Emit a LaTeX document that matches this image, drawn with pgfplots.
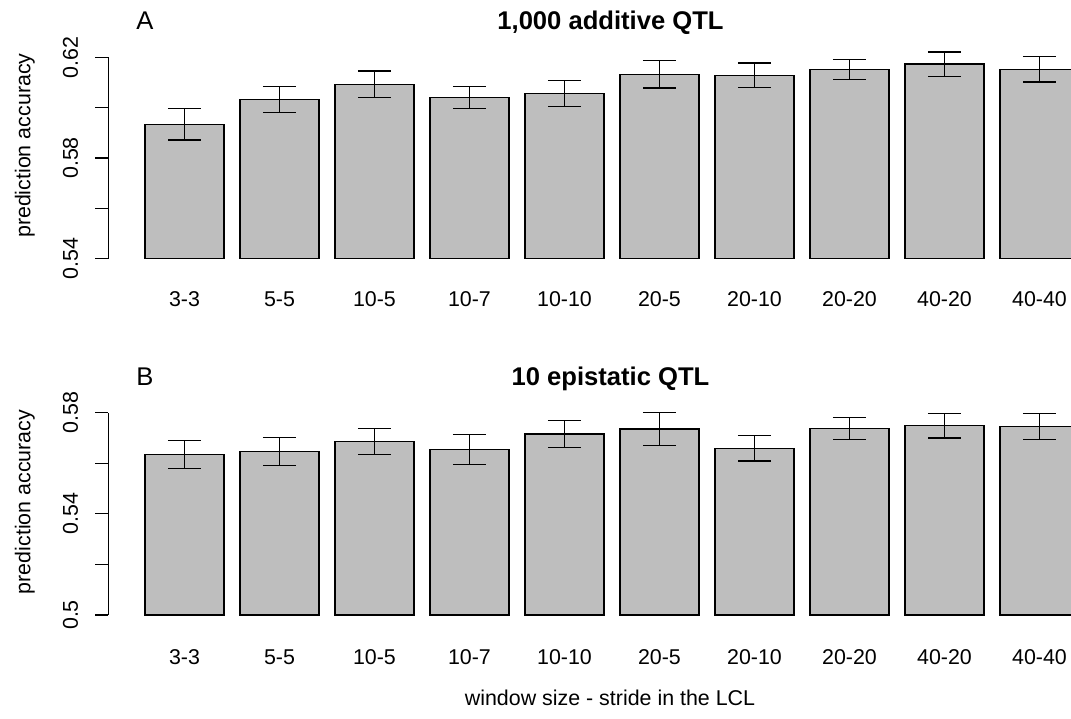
\documentclass[border=0pt]{standalone}
\usepackage{fontspec}
\setmainfont{Liberation Sans}
\usepackage{pgfplots}
\pgfplotsset{compat=1.18}
\usepackage{pgfplotstable}

\pgfplotstableread{
x y e
0 0.5934 0.0062
1 0.6032 0.0052
2 0.6093 0.0053
3 0.6040 0.0044
4 0.6057 0.0052
5 0.6132 0.0054
6 0.6129 0.0048
7 0.6152 0.0040
8 0.6173 0.0048
9 0.6152 0.0050
}\dataA

\pgfplotstableread{
x y e
0 0.5635 0.0055
1 0.5647 0.0055
2 0.5687 0.0051
3 0.5654 0.0060
4 0.5716 0.0054
5 0.5735 0.0065
6 0.5659 0.0050
7 0.5738 0.0043
8 0.5749 0.0049
9 0.5746 0.0052
}\dataB

\definecolor{bargray}{RGB}{190,190,190}

\pgfplotsset{
  frame/.style={
    scale only axis, width=504.35pt,
    xmin=-0.802, xmax=9.816,
    clip=false,
  },
  lcl/.style={
    frame,
    axis lines=left,
    axis line style={-},
    x axis line style={draw=none},
    y axis line style={black, line width=0.65pt},
    tick align=outside,
    major tick length=6.5pt,
    xtick={0,...,9},
    xticklabels={3-3,5-5,10-5,10-7,10-10,20-5,20-10,20-20,40-20,40-40},
    x tick style={draw=none},
    y tick style={black, line width=0.65pt},
    every tick label/.append style={font=\fontsize{10.7}{12}\selectfont},
    /pgf/number format/assume math mode=true,
    scaled y ticks=false,
    yticklabel style={xshift=-8.7pt, rotate=90, anchor=base},
    ybar, bar width=39.5pt,
  },
  lclbar/.style={
    fill=bargray, draw=black, line width=0.65pt,
  },
  lclerr/.style={
    draw=none, mark=none,
    error bars/.cd, y dir=both, y explicit,
    error mark=|,
    error bar style={draw=black, line width=0.65pt, solid},
    error mark options={draw=black, line width=0.65pt, mark size=8.25pt, solid},
  }
}

\begin{document}
\begin{tikzpicture}
\useasboundingbox (0,0) rectangle (535.5pt,359pt);
\clip (0,0) rectangle (535.5pt,359pt);

% Panel A
\begin{axis}[lcl,
  at={(54.15pt,229.65pt)}, anchor=south west,
  height=100.7pt,
  ymin=0.54, ymax=0.62,
  y coord trafo/.code={\pgfmathparse{#1-0.54}},
  y coord inv trafo/.code={\pgfmathparse{#1+0.54}},
  ytick={0.54,0.56,0.58,0.60,0.62},
  yticklabels={0.54,,0.58,,0.62},
  xticklabel style={anchor=base, yshift=-17.2pt},
]
\addplot[lclbar] table[x=x, y=y] {\dataA};
\end{axis}
\begin{axis}[frame, hide axis,
  at={(54.15pt,229.65pt)}, anchor=south west,
  height=100.7pt,
  ymin=0.54, ymax=0.62,
]
\addplot[lclerr] table[x=x, y=y, y error=e] {\dataA};
\end{axis}

% Panel B
\begin{axis}[lcl,
  at={(54.15pt,51.5pt)}, anchor=south west,
  height=101.16pt,
  ymin=0.5, ymax=0.58,
  y coord trafo/.code={\pgfmathparse{#1-0.5}},
  y coord inv trafo/.code={\pgfmathparse{#1+0.5}},
  ytick={0.50,0.52,0.54,0.56,0.58},
  yticklabels={0.5,,0.54,,0.58},
  xticklabel style={anchor=base, yshift=-18.4pt},
]
\addplot[lclbar] table[x=x, y=y] {\dataB};
\end{axis}
\begin{axis}[frame, hide axis,
  at={(54.15pt,51.5pt)}, anchor=south west,
  height=101.16pt,
  ymin=0.5, ymax=0.58,
]
\addplot[lclerr] table[x=x, y=y, y error=e] {\dataB};
\end{axis}

\node[anchor=base, font=\bfseries\fontsize{12.8}{14}\selectfont] at (305.25pt,344pt) {1,000 additive QTL};
\node[anchor=base west, inner sep=0pt, font=\fontsize{12.8}{14}\selectfont] at (68pt,344pt) {A};
\node[anchor=base, font=\bfseries\fontsize{12.8}{14}\selectfont] at (305.25pt,166pt) {10 epistatic QTL};
\node[anchor=base west, inner sep=0pt, font=\fontsize{12.8}{14}\selectfont] at (68pt,166pt) {B};

\node[rotate=90, anchor=base, inner sep=0pt, font=\fontsize{10.7}{12}\selectfont] at (15.25pt,286.15pt) {prediction accuracy};
\node[rotate=90, anchor=base, inner sep=0pt, font=\fontsize{10.7}{12}\selectfont] at (15.25pt,108pt) {prediction accuracy};
\node[anchor=base, inner sep=0pt, font=\fontsize{10.7}{12}\selectfont] at (305pt,6.5pt) {window size - stride in the LCL};
\end{tikzpicture}
\end{document}
